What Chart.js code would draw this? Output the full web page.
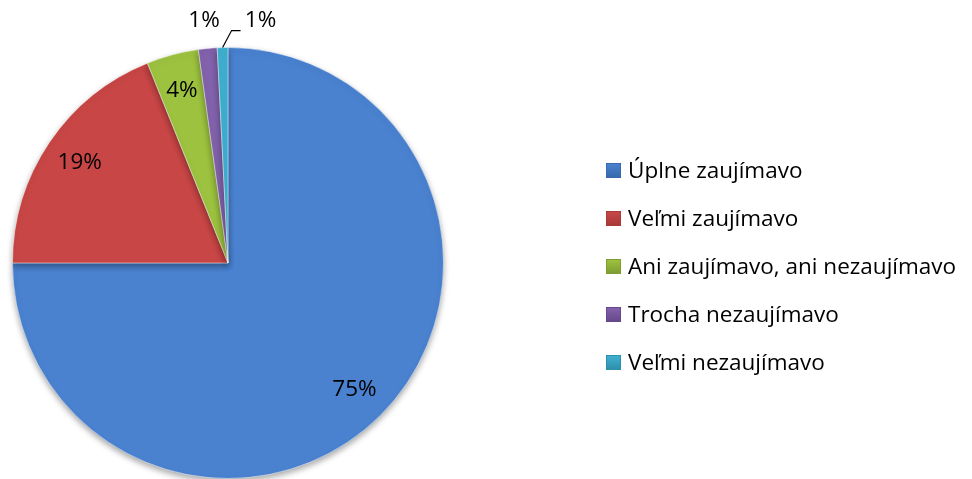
<!DOCTYPE html>
<html>
<head>
<meta charset="utf-8">
<script src="https://cdn.jsdelivr.net/npm/chart.js@4.4.1/dist/chart.umd.min.js"></script>
<style>
  body { margin: 0; background: #fff; }
  #wrap { position: relative; width: 972px; height: 479px; }
  #legend { position: absolute; left: 606px; top: 146px; font-family: "Open Sans", sans-serif; font-size: 22.5px; color: #000; }
  #legend div { height: 48px; line-height: 48px; white-space: nowrap; }
  #legend span.box { display: inline-block; width: 15px; height: 15px; margin-right: 7px; vertical-align: 0px; box-sizing: border-box; }
</style>
</head>
<body>
<div id="wrap">
  <canvas id="pieChart"></canvas>
  <div id="legend"></div>
</div>
<script>
const categories = ['Úplne zaujímavo', 'Veľmi zaujímavo', 'Ani zaujímavo, ani nezaujímavo', 'Trocha nezaujímavo', 'Veľmi nezaujímavo'];
const shares = [75, 18.9, 3.9, 1.4, 0.8];
const percentLabels = ['75%', '19%', '4%', '1%', '1%'];
const colors = ['#4a82d0', '#c84646', '#9dc23f', '#8262ac', '#3fb0d0'];
const darkColors = ['#376aac', '#a83a38', '#7e9d32', '#66498c', '#2e8fac'];

// legend as html
const legendEl = document.getElementById('legend');
categories.forEach((c, i) => {
  const row = document.createElement('div');
  const box = document.createElement('span');
  box.className = 'box';
  box.style.background = 'linear-gradient(' + colors[i] + ', ' + darkColors[i] + ')';
  box.style.border = '1px solid ' + darkColors[i];
  row.appendChild(box);
  row.appendChild(document.createTextNode(c));
  legendEl.appendChild(row);
});

function sliceFill(ctx, i) {
  const chart = ctx.chart;
  const arc = chart.getDatasetMeta(0).data[i];
  if (!arc || !arc.outerRadius) return colors[i];
  const g = chart.ctx.createRadialGradient(arc.x, arc.y, 0, arc.x, arc.y, arc.outerRadius);
  g.addColorStop(0, colors[i]);
  g.addColorStop(0.92, colors[i]);
  g.addColorStop(1, darkColors[i]);
  return g;
}

const shadowPlugin = {
  id: 'shadow',
  beforeDatasetsDraw(chart) {
    chart.ctx.save();
    chart.ctx.shadowColor = 'rgba(0,0,0,0.35)';
    chart.ctx.shadowBlur = 6;
    chart.ctx.shadowOffsetY = 3;
  },
  afterDatasetsDraw(chart) {
    chart.ctx.restore();
  }
};

const labelPlugin = {
  id: 'sliceLabels',
  afterDraw(chart) {
    const ctx = chart.ctx;
    const arcs = chart.getDatasetMeta(0).data;
    ctx.save();
    ctx.font = '22.5px "Open Sans", sans-serif';
    ctx.fillStyle = '#000';
    ctx.textAlign = 'center';
    ctx.textBaseline = 'middle';
    arcs.forEach((a, i) => {
      const mid = (a.startAngle + a.endAngle) / 2;
      const r = a.outerRadius;
      if (i < 3) {
        const k = 0.83;
        ctx.fillText(percentLabels[i], a.x + Math.cos(mid) * r * k, a.y + Math.sin(mid) * r * k);
      } else if (i === 3) {
        const k = 1.13;
        ctx.fillText(percentLabels[i], a.x + Math.cos(mid) * r * k - 1, a.y + Math.sin(mid) * r * k);
      } else {
        const ex = a.x + Math.cos(mid) * r, ey = a.y + Math.sin(mid) * r;
        ctx.strokeStyle = '#000';
        ctx.lineWidth = 1.2;
        ctx.beginPath();
        ctx.moveTo(ex, ey);
        ctx.lineTo(ex + 9, ey - 17);
        ctx.lineTo(ex + 18, ey - 17);
        ctx.stroke();
        ctx.fillText(percentLabels[i], ex + 38, ey - 27);
      }
    });
    ctx.restore();
  }
};

new Chart(document.getElementById('pieChart'), {
  type: 'pie',
  data: {
    labels: categories,
    datasets: [{
      data: shares,
      backgroundColor: ctx => sliceFill(ctx, ctx.dataIndex),
      borderColor: 'rgba(255,255,255,0.45)',
      borderWidth: 1
    }]
  },
  options: {
    responsive: true,
    maintainAspectRatio: false,
    animation: false,
    layout: { padding: { top: 47, bottom: 0, left: 12, right: 528 } },
    plugins: {
      legend: { display: false },
      tooltip: { enabled: false }
    }
  },
  plugins: [shadowPlugin, labelPlugin]
});
</script>
</body>
</html>
